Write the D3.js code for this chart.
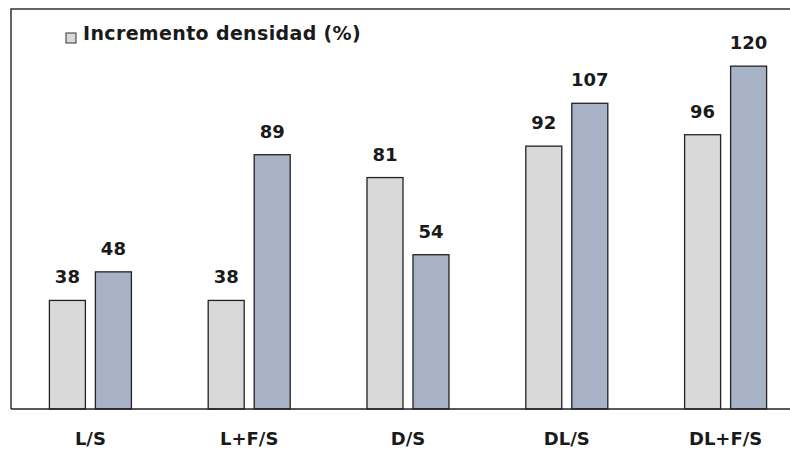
<!DOCTYPE html>
<html><head><meta charset="utf-8">
<script src="https://cdn.jsdelivr.net/npm/d3@7"></script>
<style>body{margin:0;background:#fff}svg{display:block}</style>
</head><body>
<svg id="c" width="790" height="451"></svg>
<script>
const categories = ["L/S", "L+F/S", "D/S", "DL/S", "DL+F/S"];
const seriesNames = ["Incremento densidad (%)", "Serie 2"];
const series1 = [38, 38, 81, 92, 96];
const series2 = [48, 89, 54, 107, 120];

(function(){
const svg = d3.select("#c");
const W = 790;
const mLeft = 11, mTop = 9, mBottom = 409, mRight = 805;
const font = "'DejaVu Sans', sans-serif";
const colors = ["#d9d9d9", "#a8b2c6"];

const x = d3.scaleBand().domain(categories).range([mLeft, mRight]).padding(0);
const y = d3.scaleLinear().domain([0, 140]).range([mBottom, mTop]);

const data = categories.map((c, i) => ({c, v: [series1[i], series2[i]]}));
const bw = 36;
const offs = [-41, 5];

const g = svg.append("g");
data.forEach(d => {
  const cx = x(d.c) + x.bandwidth() / 2;
  d.v.forEach((v, k) => {
    g.append("rect")
      .attr("x", cx + offs[k]).attr("y", y(v))
      .attr("width", bw).attr("height", y(0) - y(v))
      .attr("fill", colors[k]).attr("stroke", "#222").attr("stroke-width", 1.3);
    g.append("text")
      .attr("x", cx + offs[k] + bw / 2).attr("y", y(v) - 17)
      .attr("text-anchor", "middle").attr("font-family", font)
      .attr("font-weight", "bold").attr("font-size", 18).attr("fill", "#1a1a1a")
      .text(v);
  });
});

svg.append("path").attr("d", `M${mLeft},${mBottom}V${mTop}H${W}`)
  .attr("fill", "none").attr("stroke", "#333").attr("stroke-width", 1.5);

const xAxis = d3.axisBottom(x).tickSize(0).tickPadding(23);
const ax = svg.append("g").attr("transform", `translate(0,${mBottom})`).call(xAxis);
ax.select(".domain").attr("stroke", "#222").attr("stroke-width", 1.5).attr("d", `M${mLeft},0H${W}`);
ax.selectAll("text").attr("font-family", font).attr("font-weight", "bold")
  .attr("font-size", 18).attr("fill", "#1a1a1a");

svg.append("rect").attr("x", 66).attr("y", 33).attr("width", 10).attr("height", 10)
  .attr("fill", colors[0]).attr("stroke", "#333").attr("stroke-width", 1);
svg.append("text").attr("x", 83).attr("y", 40).attr("font-family", font)
  .attr("font-weight", "bold").attr("font-size", 19).attr("letter-spacing", 0.35)
  .attr("fill", "#1a1a1a")
  .text(seriesNames[0]);
})();
</script>
</body></html>
